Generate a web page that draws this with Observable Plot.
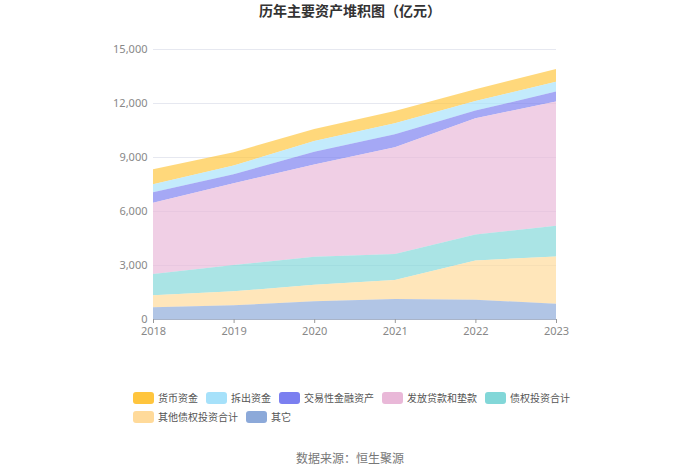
<!DOCTYPE html>
<html><head><meta charset="utf-8">
<script src="https://cdn.jsdelivr.net/npm/d3@7"></script>
<script src="https://cdn.jsdelivr.net/npm/@observablehq/plot@0.6"></script>
<style>
body{margin:0;font-family:"Noto Sans CJK SC","Noto Sans",sans-serif;background:#fff}
#wrap{position:relative;width:700px;height:474px;overflow:hidden}
#title{position:absolute;top:0px;left:0;width:700px;text-align:center;font-size:14px;font-weight:bold;color:#333}
#chart{position:absolute;top:25px;left:0}
#legend{position:absolute;top:391px;left:133px;width:445px;display:flex;flex-wrap:wrap;row-gap:6px;column-gap:8px;font-size:10px;color:#555}
.item{display:flex;align-items:center;height:13px;line-height:13px}
.sw{width:21px;height:12px;border-radius:3px;margin-right:4px}
#source{position:absolute;top:449px;left:0;width:700px;text-align:center;font-size:12px;color:#777}
</style></head>
<body>
<div id="wrap">
<div id="title">历年主要资产堆积图（亿元）</div>
<div id="chart"></div>
<div id="legend"></div>
<div id="source">数据来源：恒生聚源</div>
</div>
<script>
const years = [2018, 2019, 2020, 2021, 2022, 2023];
const seriesNames = ["货币资金", "拆出资金", "交易性金融资产", "发放贷款和垫款", "债权投资合计", "其他债权投资合计", "其它"];
const colors = ["#FFC53D", "#A6E1FA", "#7B7FF0", "#E9B8D8", "#82D7D8", "#FFDA9A", "#8CA9D9"];
const cash = [832, 740, 666, 684, 648, 703];
const lending = [444, 480, 610, 611, 536, 555];
const trading = [592, 500, 703, 721, 425, 554];
const loans = [3958, 4550, 5123, 5937, 6455, 6899];
const debtInv = [1184, 1461, 1554, 1443, 1443, 1702];
const otherDebtInv = [666, 777, 925, 1054, 2182, 2626];
const others = [647, 758, 980, 1110, 1073, 851];
const yTicks = [0, 3000, 6000, 9000, 12000, 15000];

const seriesValues = [cash, lending, trading, loans, debtInv, otherDebtInv, others];
const data = [];
seriesNames.forEach((name, i) => {
  years.forEach((yr, j) => data.push({year: yr, series: name, value: seriesValues[i][j]}));
});
const stackOrder = seriesNames.slice().reverse();

const chart = Plot.plot({
  width: 700,
  height: 320,
  marginLeft: 153,
  marginRight: 144,
  marginTop: 24,
  marginBottom: 26,
  style: {fontFamily: "'Noto Sans', 'Noto Sans CJK SC', sans-serif", fontSize: "11px", background: "transparent"},
  x: {domain: [2018, 2023], ticks: years, tickFormat: d => String(d), label: null},
  y: {domain: [0, 15000], ticks: yTicks, tickFormat: d3.format(","), label: null},
  color: {domain: seriesNames, range: colors},
  marks: [
    Plot.ruleY(yTicks, {stroke: "#e6e8f0", strokeWidth: 1}),
    Plot.areaY(data, {x: "year", y: "value", z: "series", fill: "series", fillOpacity: 0.68, order: stackOrder}),
    Plot.ruleY([0], {stroke: "#a9b4c8", strokeWidth: 1}),
    Plot.axisY({ticks: yTicks, tickFormat: d3.format(","), tickSize: 0, tickPadding: 6, fill: "#888", label: null}),
    Plot.axisX({ticks: years, tickFormat: d => String(d), tickSize: 4, tickPadding: 4, stroke: "#999", fill: "#888", label: null})
  ]
});
document.getElementById("chart").appendChild(chart);

const legend = document.getElementById("legend");
seriesNames.forEach((name, i) => {
  const it = document.createElement("div");
  it.className = "item";
  const sw = document.createElement("span");
  sw.className = "sw";
  sw.style.background = colors[i];
  const tx = document.createElement("span");
  tx.textContent = name;
  it.appendChild(sw); it.appendChild(tx);
  legend.appendChild(it);
});
</script>
</body></html>
